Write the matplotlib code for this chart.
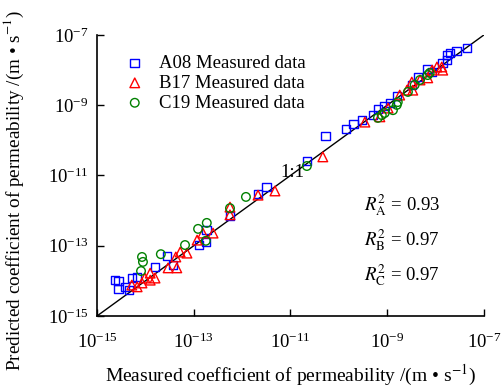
import numpy as np
import matplotlib
matplotlib.use("Agg")
from matplotlib import pyplot as plt

plt.rcParams['font.family'] = ['Liberation Serif', 'DejaVu Serif']
plt.rcParams['mathtext.fontset'] = 'stix'

# log10 of (measured, predicted) permeability
a08_x = [-14.63, -14.55, -14.55, -14.42, -14.34, -14.28, -14.17, -13.80, -13.55, -13.43,
         -12.89, -12.73, -12.75, -12.25, -11.67, -11.49, -10.66, -10.27, -9.85, -9.69,
         -9.52, -9.29, -9.19, -9.05, -8.94, -8.80, -8.49, -8.36, -8.16, -8.07,
         -7.85, -7.76, -7.70, -7.56, -7.35, -7.76]
a08_y = [-13.98, -14.00, -14.23, -14.17, -14.26, -13.92, -13.89, -13.60, -13.29, -13.55,
         -12.98, -12.55, -12.89, -12.15, -11.53, -11.33, -10.59, -9.88, -9.68, -9.53,
         -9.42, -9.28, -9.11, -9.02, -8.94, -8.74, -8.42, -8.20, -7.97, -8.05,
         -7.80, -7.57, -7.51, -7.46, -7.37, -7.71]

b17_x = [-14.28, -14.17, -14.07, -14.01, -13.90, -13.80, -13.90, -13.53, -13.35, -13.37,
         -13.28, -13.14, -12.93, -12.81, -12.60, -12.25, -12.25, -11.67, -11.32, -10.33,
         -9.46, -9.15, -8.98, -8.74, -8.59, -8.49, -8.47, -8.32, -8.16, -8.07,
         -7.97, -7.87, -7.85]
b17_y = [-14.12, -14.17, -14.06, -13.92, -13.98, -13.92, -13.78, -13.63, -13.63, -13.32,
         -13.18, -13.21, -12.84, -12.64, -12.64, -11.90, -12.12, -11.56, -11.44, -10.47,
         -9.48, -9.33, -9.08, -8.71, -8.57, -8.34, -8.57, -8.28, -8.22, -8.00,
         -7.91, -7.91, -8.00]

c19_x = [-14.07, -14.05, -14.09, -13.68, -13.18, -12.91, -12.73, -12.75, -12.25, -11.92,
         -10.66, -9.19, -9.11, -9.05, -8.88, -8.80, -8.78, -8.57, -8.43, -8.32,
         -8.16, -8.12]
c19_y = [-13.32, -13.46, -13.72, -13.24, -12.98, -12.52, -12.35, -12.86, -11.93, -11.61,
         -10.73, -9.36, -9.28, -9.22, -9.14, -8.99, -8.91, -8.62, -8.42, -8.28,
         -8.14, -8.08]

r2_labels = ['A', 'B', 'C']
r2_values = [0.93, 0.97, 0.97]
lims = [1e-15, 1e-7]

fig = plt.figure(figsize=(5.04, 3.89), dpi=100)
ax = fig.add_axes([0.1925, 0.1877, 0.7675, 0.7223])

ax.plot(lims, lims, color='black', lw=1.0, zorder=1)
ax.scatter(10**np.array(a08_x), 10**np.array(a08_y), marker='s', s=38, facecolors='none',
           edgecolors='#0000ff', linewidths=1.0, label='A08 Measured data', zorder=2)
ax.scatter(10**np.array(b17_x), 10**np.array(b17_y), marker='^', s=48, facecolors='none',
           edgecolors='#ff0000', linewidths=1.0, label='B17 Measured data', zorder=2)
ax.scatter(10**np.array(c19_x), 10**np.array(c19_y), marker='o', s=38, facecolors='none',
           edgecolors='#008000', linewidths=1.0, label='C19 Measured data', zorder=2)

ax.set_xscale('log')
ax.set_yscale('log')
ax.set_xlim(lims)
ax.set_ylim(lims)
ticks = [1e-15, 1e-13, 1e-11, 1e-9, 1e-7]
ax.set_xticks(ticks)
ax.set_yticks(ticks)
ax.minorticks_off()
ax.tick_params(direction='in', length=5, width=1, labelsize=13.5)
ax.tick_params(axis='x', pad=12)
ax.tick_params(axis='y', pad=6)
for s in ['top', 'right']:
    ax.spines[s].set_visible(False)
for s in ['left', 'bottom']:
    ax.spines[s].set_linewidth(1.2)

ax.set_xlabel('Measured coefficient of permeability /(m • s$^{-1}$)', fontsize=14, labelpad=8)
ax.set_ylabel('Predicted coefficient of permeability /(m • s$^{-1}$)', fontsize=13.8)
ax.yaxis.set_label_coords(-0.183, 0.447)

ax.text(0.535, 0.51, '1:1', transform=ax.transAxes, fontsize=13.5, ha='right', va='center')
for i, (lab, val) in enumerate(zip(r2_labels, r2_values)):
    ax.text(0.69, 0.395 - i * 0.125, r'$R_{\mathrm{%s}}^{2}$ = %.2f' % (lab, val),
            transform=ax.transAxes, fontsize=13.5, ha='left', va='center')

leg = ax.legend(loc='upper left', bbox_to_anchor=(0.02, 0.97), frameon=False, fontsize=13.5,
                handletextpad=0.3, labelspacing=0.15, borderaxespad=0.2)

fig.savefig('out.png', dpi=100)
